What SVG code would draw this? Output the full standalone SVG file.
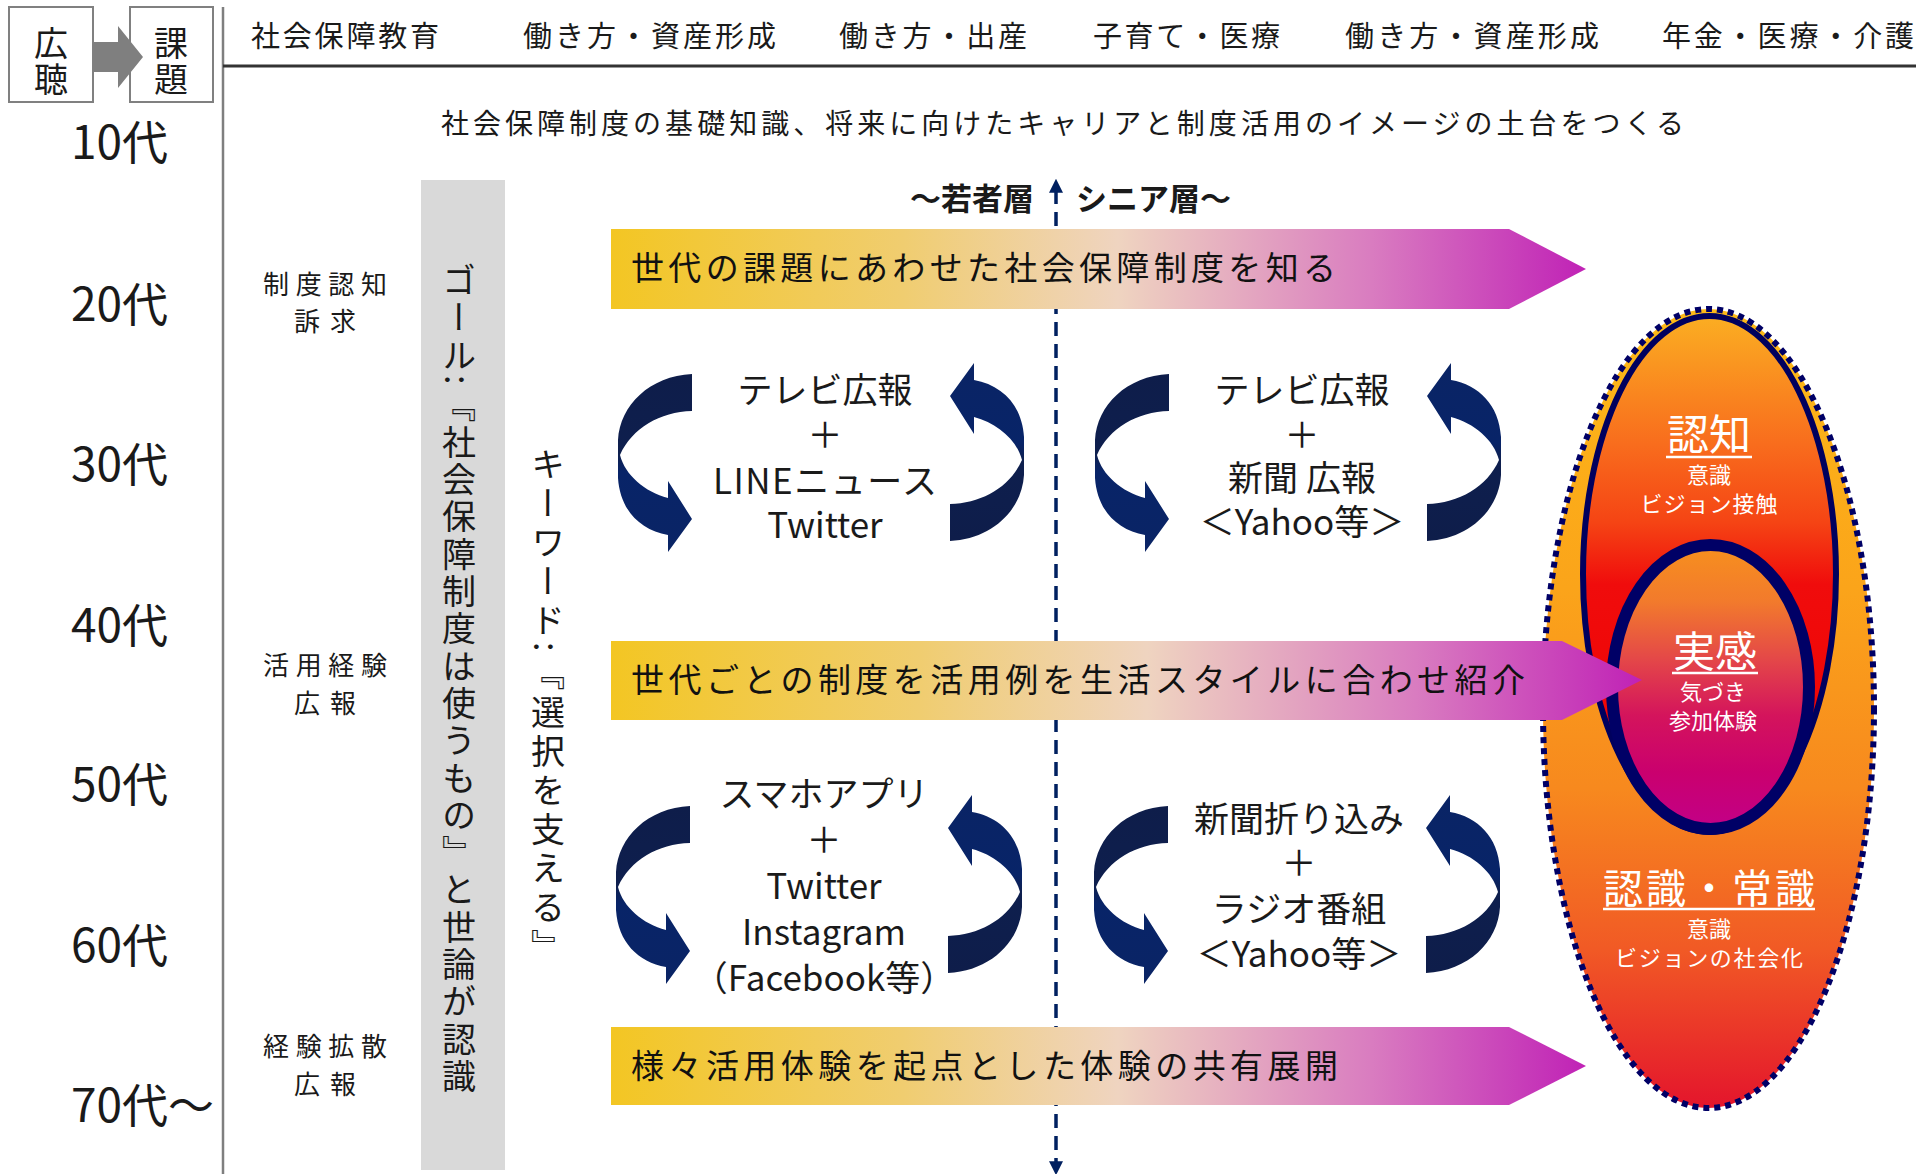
<svg xmlns="http://www.w3.org/2000/svg" width="1921" height="1174" viewBox="0 0 1921 1174">
<style>
text{font-family:"Noto Sans CJK JP","Noto Sans",sans-serif;fill:#1a1a1a}
.hdr{font-size:29px}
.age{font-size:46px}
.lbl{font-size:26px;text-anchor:middle}
.vt{font-size:34px;writing-mode:vertical-rl;letter-spacing:3px}
.ban{font-size:33px;fill:#111}
.med{font-size:35px;text-anchor:middle}
.big{font-size:42px;text-anchor:middle;fill:#fff}
.sm{font-size:22px;text-anchor:middle;fill:#fff}
.side{font-size:31px;font-weight:bold}
</style>
<defs>
<linearGradient id="gBan" x1="0" y1="0" x2="1" y2="0">
<stop offset="0" stop-color="#f3c623"/>
<stop offset="0.3" stop-color="#f0cd70"/>
<stop offset="0.52" stop-color="#efd4c0"/>
<stop offset="0.78" stop-color="#d97cc0"/>
<stop offset="1" stop-color="#c022b6"/>
</linearGradient>
<linearGradient id="gArr" x1="0" y1="0" x2="0" y2="1">
<stop offset="0" stop-color="#0e1d4a"/>
<stop offset="0.45" stop-color="#0e1f4e"/>
<stop offset="0.55" stop-color="#082468"/>
<stop offset="1" stop-color="#0a2465"/>
</linearGradient>
<linearGradient id="gOut" x1="0" y1="0" x2="0" y2="1">
<stop offset="0" stop-color="#fdb917"/>
<stop offset="0.35" stop-color="#fba41a"/>
<stop offset="0.6" stop-color="#f7891e"/>
<stop offset="0.8" stop-color="#f15a25"/>
<stop offset="1" stop-color="#e4152c"/>
</linearGradient>
<linearGradient id="gMid" x1="0" y1="0" x2="0" y2="1">
<stop offset="0" stop-color="#fbae22"/>
<stop offset="0.25" stop-color="#f86c1d"/>
<stop offset="0.4" stop-color="#f54414"/>
<stop offset="0.52" stop-color="#f00c0c"/>
<stop offset="1" stop-color="#f00000"/>
</linearGradient>
<linearGradient id="gIn" x1="0" y1="0" x2="0" y2="1">
<stop offset="0" stop-color="#f7901e"/>
<stop offset="0.2" stop-color="#f27a2c"/>
<stop offset="0.4" stop-color="#e44848"/>
<stop offset="0.6" stop-color="#d4145c"/>
<stop offset="0.8" stop-color="#ca006e"/>
<stop offset="1" stop-color="#c20088"/>
</linearGradient>
<marker id="mh" viewBox="0 0 10 10" refX="2" refY="5" markerWidth="4" markerHeight="4" orient="auto-start-reverse">
<path d="M0,0 L10,5 L0,10 Z" fill="#002060"/>
</marker>
<path id="curl" d="M692,374 C650,376 620,405 618,440 L618,478 C620,510 640,530 668,535 L668,552 L692,519 L668,481 L668,498 C645,492 625,475 620,455 C632,428 660,412 692,411 Z" fill="url(#gArr)"/>
</defs>
<rect x="0" y="0" width="1921" height="1174" fill="#fff"/>

<g id="header">
<rect x="9" y="7" width="84" height="95" fill="#fff" stroke="#808080" stroke-width="2"/>
<rect x="130" y="7" width="83" height="95" fill="#fff" stroke="#808080" stroke-width="2"/>
<path d="M93,42 L118,42 L118,26 L143,57 L118,88 L118,72 L93,72 Z" fill="#7f7f7f"/>
<text style="font-size:34px;text-anchor:middle"><tspan x="51" y="56">広</tspan><tspan x="51" y="92">聴</tspan></text>
<text style="font-size:34px;text-anchor:middle"><tspan x="171" y="56">課</tspan><tspan x="171" y="92">題</tspan></text>
<line x1="223" y1="7" x2="223" y2="1174" stroke="#7f7f7f" stroke-width="2.5"/>
<line x1="223" y1="66" x2="1916" y2="66" stroke="#333" stroke-width="3"/>
<text class="hdr" x="251" y="47" textLength="188">社会保障教育</text>
<text class="hdr" x="523" y="47" textLength="253">働き方・資産形成</text>
<text class="hdr" x="839" y="47" textLength="188">働き方・出産</text>
<text class="hdr" x="1093" y="47" textLength="187">子育て・医療</text>
<text class="hdr" x="1345" y="47" textLength="254">働き方・資産形成</text>
<text class="hdr" x="1662" y="47" textLength="252">年金・医療・介護</text>
<text x="441" y="134" style="font-size:28px" textLength="1243">社会保障制度の基礎知識、将来に向けたキャリアと制度活用のイメージの土台をつくる</text>
</g>

<g id="ages">
<text class="age" x="71" y="159">10代</text>
<text class="age" x="71" y="321">20代</text>
<text class="age" x="71" y="481">30代</text>
<text class="age" x="71" y="642">40代</text>
<text class="age" x="71" y="801">50代</text>
<text class="age" x="71" y="962">60代</text>
<text class="age" x="71" y="1122">70代～</text>
</g>

<g id="phase-labels">
<text class="lbl"><tspan x="325" y="294" textLength="124">制度認知</tspan><tspan x="325" y="331" textLength="62">訴求</tspan></text>
<text class="lbl"><tspan x="325" y="675" textLength="124">活用経験</tspan><tspan x="325" y="713" textLength="62">広報</tspan></text>
<text class="lbl"><tspan x="325" y="1056" textLength="124">経験拡散</tspan><tspan x="325" y="1094" textLength="62">広報</tspan></text>
</g>

<g id="goal">
<rect x="421" y="180" width="84" height="990" fill="#d9d9d9"/>
<text class="vt" x="459" y="263" style="letter-spacing:3.3px">ゴール:『社会保障制度は使うもの』と世論が認識</text>
</g>
<g id="keyword">
<text class="vt" x="548" y="447" style="letter-spacing:5px">キーワード:『選択を支える』</text>
</g>

<g id="connectors">
<line x1="1056" y1="190" x2="1056" y2="1164" stroke="#002060" stroke-width="3.5" stroke-dasharray="14 8" marker-start="url(#mh)" marker-end="url(#mh)"/>
</g>
<g id="axis-labels">
<text class="side" x="1034" y="210" style="text-anchor:end">～若者層</text>
<text class="side" x="1076" y="210">シニア層～</text>
</g>

<g id="awareness">
<ellipse cx="1708.5" cy="708.5" rx="165.5" ry="399.5" fill="url(#gOut)" stroke="#000066" stroke-width="6" stroke-dasharray="6 5"/>
<ellipse cx="1709.5" cy="574" rx="126.5" ry="258" fill="url(#gMid)" stroke="#00005e" stroke-width="6"/>
<ellipse cx="1710.5" cy="687" rx="98.5" ry="142" fill="url(#gIn)" stroke="#000066" stroke-width="12"/>
<text class="big" x="1709" y="450">認知</text>
<line x1="1666" y1="457" x2="1752" y2="457" stroke="#fff" stroke-width="2.5"/>
<text class="sm"><tspan x="1709" y="483">意識</tspan><tspan x="1709" y="512" textLength="137">ビジョン接触</tspan></text>
<text class="big" x="1715" y="667">実感</text>
<line x1="1672" y1="673" x2="1758" y2="673" stroke="#fff" stroke-width="2.5"/>
<text class="sm"><tspan x="1713" y="700">気づき</tspan><tspan x="1713" y="729">参加体験</tspan></text>
<text class="big" x="1709" y="903" style="font-size:40px" textLength="212">認識・常識</text>
<line x1="1603" y1="909" x2="1815" y2="909" stroke="#fff" stroke-width="2.5"/>
<text class="sm"><tspan x="1709" y="937">意識</tspan><tspan x="1709" y="966" textLength="188">ビジョンの社会化</tspan></text>
</g>

<g id="banner1">
<path d="M611,229 L1509,229 L1586,269 L1509,309 L611,309 Z" fill="url(#gBan)"/>
<text class="ban" x="631" y="280" textLength="705">世代の課題にあわせた社会保障制度を知る</text>
</g>
<g id="banner2">
<path d="M611,641 L1562,641 L1642,680 L1562,720 L611,720 Z" fill="url(#gBan)"/>
<text class="ban" x="631" y="692" textLength="894">世代ごとの制度を活用例を生活スタイルに合わせ紹介</text>
</g>
<g id="banner3">
<path d="M611,1027 L1509,1027 L1586,1066 L1509,1105 L611,1105 Z" fill="url(#gBan)"/>
<text class="ban" x="631" y="1078" textLength="707">様々活用体験を起点とした体験の共有展開</text>
</g>

<g id="media-young-early">
<use href="#curl"/>
<use href="#curl" transform="rotate(180 821 457.5)"/>
<text class="med"><tspan x="825" y="403">テレビ広報</tspan><tspan x="825" y="448">＋</tspan><tspan x="825" y="494" textLength="224">LINEニュース</tspan><tspan x="825" y="538">Twitter</tspan></text>
</g>
<g id="media-senior-early">
<use href="#curl" transform="translate(477 0)"/>
<use href="#curl" transform="translate(477 0) rotate(180 821 457.5)"/>
<text class="med"><tspan x="1302" y="403">テレビ広報</tspan><tspan x="1302" y="448">＋</tspan><tspan x="1302" y="491">新聞 広報</tspan><tspan x="1302" y="535">＜Yahoo等＞</tspan></text>
</g>
<g id="media-young-late">
<use href="#curl" transform="translate(-2 432)"/>
<use href="#curl" transform="translate(-2 432) rotate(180 821 457.5)"/>
<text class="med"><tspan x="824" y="807">スマホアプリ</tspan><tspan x="824" y="853">＋</tspan><tspan x="824" y="899">Twitter</tspan><tspan x="824" y="945">Instagram</tspan><tspan x="824" y="991">（Facebook等）</tspan></text>
</g>
<g id="media-senior-late">
<use href="#curl" transform="translate(476 432)"/>
<use href="#curl" transform="translate(476 432) rotate(180 821 457.5)"/>
<text class="med"><tspan x="1299" y="832">新聞折り込み</tspan><tspan x="1299" y="876">＋</tspan><tspan x="1299" y="922">ラジオ番組</tspan><tspan x="1299" y="967">＜Yahoo等＞</tspan></text>
</g>
</svg>
